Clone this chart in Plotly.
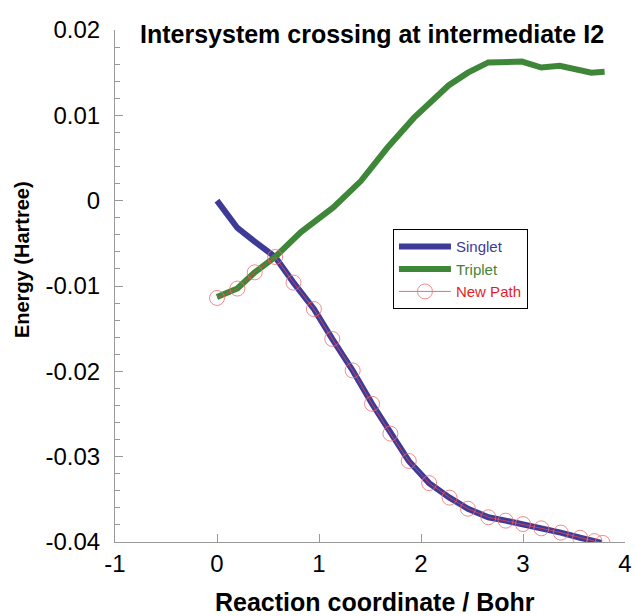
import plotly.graph_objects as go

# Data
singlet_x = [0, 0.2, 0.37, 0.57, 0.75, 0.95, 1.13, 1.33, 1.52, 1.70, 1.88, 2.08, 2.28, 2.46,
             2.66, 2.83, 3.0, 3.18, 3.37, 3.56, 3.72, 3.77]
singlet_y = [0, -0.0032, -0.0048, -0.0066, -0.0096, -0.0127, -0.0162, -0.0199, -0.0238, -0.0273,
             -0.0305, -0.0331, -0.0348, -0.0361, -0.0371, -0.0375, -0.0379, -0.0384, -0.0389,
             -0.0395, -0.0399, -0.0401]

triplet_x = [0, 0.2, 0.37, 0.57, 0.82, 1.14, 1.41, 1.67, 1.93, 2.27, 2.46, 2.66, 2.99, 3.18,
             3.36, 3.51, 3.67, 3.80]
triplet_y = [-0.0113, -0.0103, -0.0084, -0.0066, -0.0037, -0.0008, 0.0023, 0.0062, 0.0097,
             0.0135, 0.0150, 0.0162, 0.0163, 0.0156, 0.0158, 0.0154, 0.0150, 0.0151]

newpath_x = [0, 0.2, 0.37, 0.57, 0.75, 0.95, 1.13, 1.33, 1.52, 1.70, 1.88, 2.08, 2.28, 2.46,
             2.66, 2.83, 3.0, 3.18, 3.37, 3.56, 3.70, 3.78]
newpath_y = [-0.0114, -0.0103, -0.0084, -0.0066, -0.0096, -0.0127, -0.0162, -0.0199, -0.0238,
             -0.0273, -0.0305, -0.0331, -0.0348, -0.0361, -0.0371, -0.0375, -0.0379, -0.0384,
             -0.0389, -0.0395, -0.0399, -0.0401]

x_ticks = [-1, 0, 1, 2, 3, 4]
x_tick_labels = ["-1", "0", "1", "2", "3", "4"]
y_ticks = [0.02, 0.01, 0, -0.01, -0.02, -0.03, -0.04]
y_tick_labels = ["0.02", "0.01", "0", "-0.01", "-0.02", "-0.03", "-0.04"]

FONT = "Liberation Sans, Arial, sans-serif"
BLUE = "rgb(62,58,152)"
GREEN = "rgb(62,134,56)"
RED = "rgb(225,30,40)"

fig = go.Figure()
fig.add_trace(go.Scatter(x=singlet_x, y=singlet_y, mode="lines",
                         name=f"<span style='color:{BLUE}'>Singlet</span>",
                         line=dict(color=BLUE, width=6)))
fig.add_trace(go.Scatter(x=triplet_x, y=triplet_y, mode="lines",
                         name=f"<span style='color:{GREEN}'>Triplet</span>",
                         line=dict(color=GREEN, width=6)))
fig.add_trace(go.Scatter(x=newpath_x, y=newpath_y, mode="lines+markers",
                         name=f"<span style='color:{RED}'>New Path</span>",
                         line=dict(color="rgba(235,70,70,0.8)", width=1),
                         marker=dict(symbol="circle-open", size=15,
                                     color="rgba(240,110,110,0.8)",
                                     line=dict(width=1))))

fig.update_layout(
    width=635, height=616,
    margin=dict(l=115, r=10, t=30, b=74),
    paper_bgcolor="white", plot_bgcolor="white",
    font=dict(family=FONT, color="black"),
    showlegend=True,
    legend=dict(x=0.545, y=0.611, xanchor="left", yanchor="top",
                bordercolor="black", borderwidth=1, bgcolor="white",
                font=dict(size=15), tracegroupgap=0, itemwidth=52),
    annotations=[
        dict(text="<b>Intersystem crossing at intermediate I2</b>",
             x=0.503, y=0.992, xref="paper", yref="paper",
             xanchor="center", yanchor="middle", showarrow=False,
             font=dict(size=25, family=FONT, color="black")),
        dict(text="<b>Reaction coordinate / Bohr</b>",
             x=0.509, y=-0.118, xref="paper", yref="paper",
             xanchor="center", yanchor="middle", showarrow=False,
             font=dict(size=25, family=FONT, color="black")),
        dict(text="<b>Energy (Hartree)</b>", textangle=-90,
             x=-0.182, y=0.551, xref="paper", yref="paper",
             xanchor="center", yanchor="middle", showarrow=False,
             font=dict(size=20, family=FONT, color="black")),
    ],
)
fig.update_xaxes(range=[-1, 4], tickvals=x_ticks, ticktext=x_tick_labels,
                 ticks="inside", ticklen=8, automargin=False,
                 tickcolor="#999", showline=True, linecolor="#999", linewidth=1,
                 showgrid=False, zeroline=False, tickfont=dict(size=24),
                 ticklabelstandoff=0)
fig.update_yaxes(range=[-0.04, 0.02], tickvals=y_ticks, ticktext=y_tick_labels,
                 ticks="inside", ticklen=8, tickcolor="#999", showline=True,
                 linecolor="#999", linewidth=1, showgrid=False, zeroline=False,
                 tickfont=dict(size=24), ticklabelstandoff=9, automargin=False,
                 minor=dict(ticks="inside", ticklen=5, dtick=0.002, tickcolor="#999"))

fig.write_html("out.html", config={"displayModeBar": False},
               post_script="document.body.style.margin='0';document.body.style.overflow='hidden';")
